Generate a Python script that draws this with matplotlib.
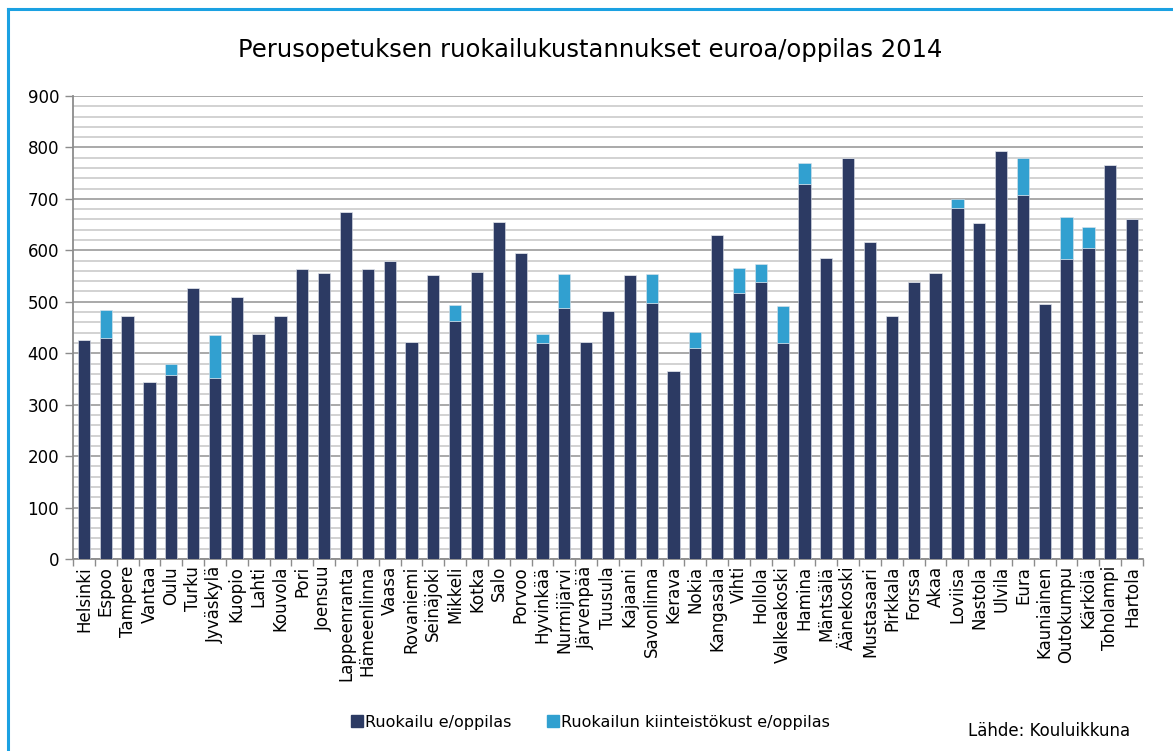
import matplotlib
matplotlib.use("Agg")
import matplotlib.pyplot as plt
from matplotlib.ticker import MultipleLocator
from matplotlib.lines import Line2D

municipalities = ["Helsinki", "Espoo", "Tampere", "Vantaa", "Oulu", "Turku", "Jyväskylä",
                  "Kuopio", "Lahti", "Kouvola", "Pori", "Joensuu", "Lappeenranta",
                  "Hämeenlinna", "Vaasa", "Rovaniemi", "Seinäjoki", "Mikkeli", "Kotka",
                  "Salo", "Porvoo", "Hyvinkää", "Nurmijärvi", "Järvenpää", "Tuusula",
                  "Kajaani", "Savonlinna", "Kerava", "Nokia", "Kangasala", "Vihti",
                  "Hollola", "Valkeakoski", "Hamina", "Mäntsälä", "Äänekoski",
                  "Mustasaari", "Pirkkala", "Forssa", "Akaa", "Loviisa", "Nastola",
                  "Ulvila", "Eura", "Kauniainen", "Outokumpu", "Kärkölä", "Toholampi",
                  "Hartola"]

ruokailu = [425, 430, 473, 344, 357, 527, 352,
            510, 438, 472, 564, 555, 675,
            563, 580, 421, 553, 463, 558,
            656, 595, 420, 487, 422, 483,
            553, 498, 366, 411, 630, 517,
            539, 420, 729, 585, 779,
            616, 473, 538, 555, 683, 654,
            794, 708, 495, 583, 605, 765,
            661]

kiinteisto = [0, 54, 0, 0, 23, 0, 84,
              0, 0, 0, 0, 0, 0,
              0, 0, 0, 0, 30, 0,
              0, 0, 17, 67, 0, 0,
              0, 56, 0, 30, 0, 49,
              34, 71, 41, 0, 0,
              0, 0, 0, 0, 17, 0,
              0, 72, 0, 81, 41, 0,
              0]

title = "Perusopetuksen ruokailukustannukset euroa/oppilas 2014"
series_names = ["Ruokailu e/oppilas", "Ruokailun kiinteistökust e/oppilas"]
source = "Lähde: Kouluikkuna"

dark = "#2C3A63"
light = "#31A0D0"

plt.rcParams['font.family'] = ['DejaVu Sans']
fig = plt.figure(figsize=(11.73, 7.51), dpi=100)
ax = fig.add_axes([73/1173, 1-559/751, (1143-73)/1173, (559-96)/751])

x = list(range(len(municipalities)))
ax.bar(x, ruokailu, width=0.56, color=dark, edgecolor="#dfe3ea", linewidth=0.4, zorder=3)
ax.bar(x, kiinteisto, width=0.56, bottom=ruokailu, color=light, edgecolor="#dfe3ea", linewidth=0.4, zorder=3)

ax.set_xlim(-0.5, len(municipalities) - 0.5)
ax.set_ylim(0, 900)
ax.yaxis.set_major_locator(MultipleLocator(100))
ax.yaxis.set_minor_locator(MultipleLocator(20))
ax.grid(axis='y', which='minor', color='#cfcfcf', linewidth=1.3, zorder=0)
ax.grid(axis='y', which='major', color='#a3a3a3', linewidth=1.3, zorder=1)
ax.set_axisbelow(True)

ax.set_xticks(x)
ax.set_xticklabels(municipalities, rotation=90, fontsize=12)
ax.tick_params(axis='x', which='major', length=0, pad=5)
ax.set_xticks([i + 0.5 for i in x[:-1]] + [-0.5, len(x) - 0.5], minor=True)
ax.tick_params(axis='x', which='minor', length=5, color='#8c8c8c', width=1)
ax.tick_params(axis='y', which='major', labelsize=12, length=6, color='#8c8c8c', width=1, pad=4)
ax.tick_params(axis='y', which='minor', length=0)

for s in ['top', 'right']:
    ax.spines[s].set_visible(False)
for s in ['left', 'bottom']:
    ax.spines[s].set_color('#8c8c8c')
    ax.spines[s].set_linewidth(1.3)

fig.text(590/1173, 1-50/751, title, ha='center', va='center', fontsize=17.5)

handles = [Line2D([], [], marker='s', linestyle='none', markersize=8, color=dark),
           Line2D([], [], marker='s', linestyle='none', markersize=8, color=light)]
fig.legend(handles, series_names, loc='center', bbox_to_anchor=(590/1173, 1-722/751),
           ncol=2, frameon=False, fontsize=11.5, handletextpad=0.1, columnspacing=2.2,
           handlelength=0.8)

fig.text(1130/1173, 1-731/751, source, ha='right', va='center', fontsize=12)

# light blue frame (left and top edges)
fig.add_artist(Line2D([7.5/1173, 7.5/1173], [0, 1-8.5/751], transform=fig.transFigure,
                      color='#1BA1E2', linewidth=2.2))
fig.add_artist(Line2D([7.5/1173, 1], [1-8.5/751, 1-8.5/751], transform=fig.transFigure,
                      color='#1BA1E2', linewidth=2.2))

fig.savefig("out.png", dpi=100)
